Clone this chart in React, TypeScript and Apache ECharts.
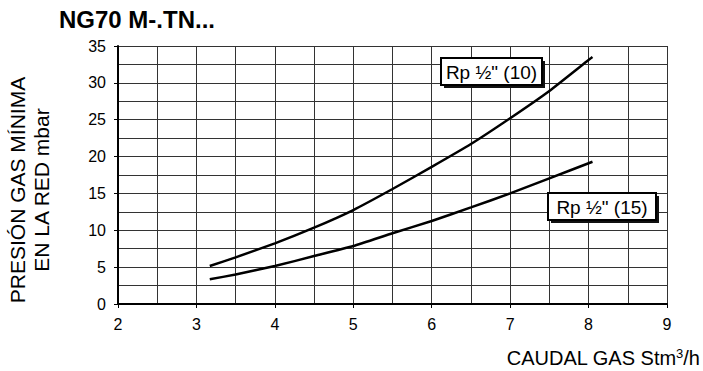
import React, { useEffect, useRef } from "react";
import * as echarts from "echarts";

// Caudal de gas (Stm³/h) frente a presión mínima en la red (mbar)
const flowRp10 = [3.17, 3.5, 4, 4.5, 5, 5.5, 6, 6.5, 7, 7.5, 8, 8.05];
const pressRp10 = [5.15, 6.33, 8.23, 10.36, 12.75, 15.6, 18.6, 21.7, 25.2, 28.9, 33.1, 33.5];
const flowRp15 = [3.17, 3.5, 4, 4.5, 5, 5.5, 6, 6.5, 7, 7.5, 8.05];
const pressRp15 = [3.35, 4.0, 5.15, 6.5, 7.87, 9.6, 11.26, 13.1, 15.0, 17.05, 19.3];

const seriesNames = ['Rp ½" (10)', 'Rp ½" (15)'];
const chartTitle = "NG70 M-.TN...";
const yTitle = "PRESIÓN GAS MÍNIMA\nEN LA RED mbar";

const FONT = "Liberation Sans";

function labelBox(x: number, y: number, w: number, h: number, text: string) {
  return [
    { type: "rect", shape: { x: x + 3, y: y + 3, width: w, height: h }, style: { fill: "#111" }, z: 10 },
    {
      type: "rect",
      shape: { x, y, width: w, height: h },
      style: { fill: "#fff", stroke: "#000", lineWidth: 2 },
      z: 11,
    },
    {
      type: "text",
      x: x + w / 2,
      y: y + h / 2 + 1,
      z: 12,
      style: {
        text,
        fontSize: 19,
        fontFamily: FONT,
        fill: "#000",
        align: "center",
        verticalAlign: "middle",
      },
    },
  ];
}

export default function App() {
  const ref = useRef<HTMLDivElement>(null);

  useEffect(() => {
    if (!ref.current) return;
    const chart = echarts.init(ref.current, null, { renderer: "svg" });
    const line = (xs: number[], ys: number[], name: string) => ({
      type: "line",
      name,
      data: xs.map((x, i) => [x, ys[i]]),
      showSymbol: false,
      smooth: 0.15,
      lineStyle: { color: "#000", width: 2.5 },
    });
    chart.setOption({
      animation: false,
      backgroundColor: "#fff",
      grid: { left: 118, right: 36, top: 46, bottom: 67 },
      xAxis: {
        type: "value",
        min: 2,
        max: 9,
        interval: 1,
        axisLine: { show: true, onZero: false, lineStyle: { color: "#000", width: 2 } },
        axisTick: { show: true, length: 4, lineStyle: { color: "#000" } },
        axisLabel: { color: "#000", fontSize: 16, fontFamily: FONT, margin: 12 },
        splitLine: { show: true, lineStyle: { color: "#333", width: 1 } },
        minorTick: { show: false, splitNumber: 2 },
        minorSplitLine: { show: true, lineStyle: { color: "#333", width: 1 } },
      },
      yAxis: {
        type: "value",
        min: 0,
        max: 35,
        interval: 5,
        axisLine: { show: true, onZero: false, lineStyle: { color: "#000", width: 2 } },
        axisTick: { show: true, length: 4, lineStyle: { color: "#000" } },
        axisLabel: { color: "#000", fontSize: 16, fontFamily: FONT, margin: 12 },
        splitLine: { show: true, lineStyle: { color: "#333", width: 1 } },
        minorTick: { show: false, splitNumber: 2 },
        minorSplitLine: { show: true, lineStyle: { color: "#333", width: 1 } },
      },
      series: [line(flowRp10, pressRp10, seriesNames[0]), line(flowRp15, pressRp15, seriesNames[1])],
      graphic: [
        {
          type: "text",
          left: 59,
          top: 7,
          style: { text: chartTitle, fontSize: 24, fontWeight: "bold", fontFamily: FONT, fill: "#000" },
        },
        {
          type: "text",
          x: 29,
          y: 190,
          rotation: Math.PI / 2,
          style: {
            text: yTitle,
            fontSize: 21,
            fontFamily: FONT,
            lineHeight: 24,
            fill: "#000",
            align: "center",
            verticalAlign: "middle",
          },
        },
        {
          type: "text",
          x: 700,
          y: 358,
          style: {
            text: "{a|CAUDAL GAS Stm}{s|3}{a|/h}",
            align: "right",
            verticalAlign: "middle",
            rich: {
              a: { fontSize: 20, fontFamily: FONT, color: "#000" },
              s: { fontSize: 13, fontFamily: FONT, color: "#000", padding: [0, 0, 9, 0] },
            },
          },
        },
        ...labelBox(441, 58, 101, 27, seriesNames[0]),
        ...labelBox(548, 193, 108, 27, seriesNames[1]),
      ],
    });
    return () => chart.dispose();
  }, []);

  return <div ref={ref} style={{ width: 703, height: 371, position: "absolute", left: 0, top: 0 }} />;
}
